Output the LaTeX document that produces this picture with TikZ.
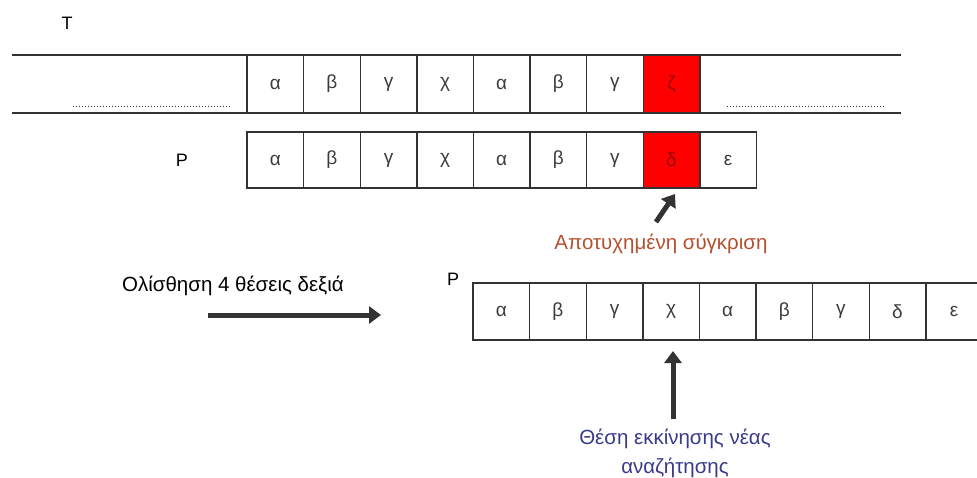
\documentclass[tikz,border=0pt]{standalone}
\usepackage{fontspec}
\setmainfont{Liberation Sans}
\usetikzlibrary{arrows.meta}
\definecolor{edge}{HTML}{333333}
\definecolor{glyph}{HTML}{3C3C3C}
\definecolor{failred}{HTML}{B5502E}
\definecolor{startblue}{HTML}{3A3A8A}
\begin{document}
\begin{tikzpicture}[x=1pt,y=-1pt,
  cell/.style={draw=edge,line width=1.4pt,minimum width=56.6pt,inner sep=0pt,
    text=glyph,font=\fontsize{19}{21}\selectfont},
  hit/.style={cell,fill=red,text={red!60!black}},
  rail/.style={draw=edge,line width=1.4pt},
  gap/.style={draw=edge,line width=1pt,dotted},
  label/.style={font=\fontsize{18}{20}\selectfont,text=black},
  fatarrow/.style={draw=edge,line width=5pt,-{Triangle[width=17pt,length=12pt]}},
  note/.style={font=\fontsize{20.5}{29}\selectfont,align=center}]
\useasboundingbox (0,0) rectangle (977,477);

% text T: the two rails and the dotted "continues" marks
\coordinate (tl) at (12,55);  \coordinate (tr) at (901,55);
\coordinate (bl) at (12,113); \coordinate (br) at (901,113);
\draw[rail] (tl) -- (tr);
\draw[rail] (bl) -- (br);
\coordinate (dl1) at (73,106);  \coordinate (dl2) at (231,106);
\coordinate (dr1) at (727,106); \coordinate (dr2) at (885,106);
\draw[gap] (dl1) -- (dl2);
\draw[gap] (dr1) -- (dr2);
\node[label] (tlab) at (67,23) {T};

% cells of the text
\foreach \c [count=\i from 0] in {α,β,γ,χ,α,β,γ}
  \node[cell,minimum height=58pt] (t\i) at (275.3+56.6*\i,84) {\c};
\node[hit,minimum height=58pt] (t7) at (275.3+56.6*7,84) {ζ};

% pattern P, aligned under the text
\node[label] (plab) at (182,160) {P};
\foreach \c [count=\i from 0] in {α,β,γ,χ,α,β,γ}
  \node[cell,minimum height=56pt] (p\i) at (275.3+56.6*\i,160) {\c};
\node[hit,minimum height=56pt] (p7) at (275.3+56.6*7,160) {δ};
\node[cell,minimum height=56pt] (p8) at (275.3+56.6*8,160) {ε};

% mismatch marker
\node[note,text=failred] (fail) at (661,244) {Αποτυχημένη σύγκριση};
\coordinate (failtail) at (656,222);
\coordinate (failtip) at (675,194);
\draw[fatarrow] (failtail) -- (failtip);

% shift of the pattern
\node[note] (shift) at (233,286) {Ολίσθηση 4 θέσεις δεξιά};
\coordinate (shtail) at (208,315);
\coordinate (shtip) at (381,315);
\draw[fatarrow] (shtail) -- (shtip);

% shifted pattern P
\node[label] (qlab) at (453,279) {P};
\foreach \c [count=\i from 0] in {α,β,γ,χ,α,β,γ,δ,ε}
  \node[cell,minimum height=57pt] (q\i) at (501.3+56.6*\i,311.5) {\c};

% start of the new search
\node[note,text=startblue] (start) at (675,453) {Θέση εκκίνησης νέας\\αναζήτησης};
\coordinate (sttail) at (673,419);
\coordinate (sttip) at (673,351);
\draw[fatarrow] (sttail) -- (sttip);
\end{tikzpicture}
\end{document}
